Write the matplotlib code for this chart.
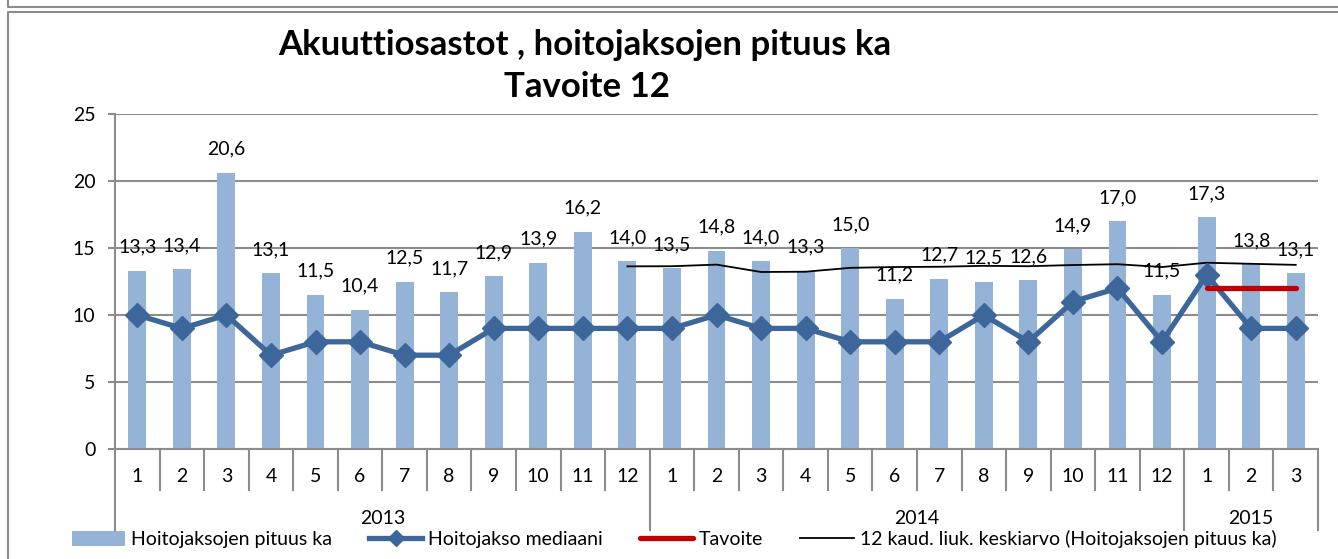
import matplotlib
matplotlib.use("Agg")
import matplotlib.pyplot as plt
from matplotlib.lines import Line2D
from matplotlib.patches import Patch
import matplotlib.transforms as mtransforms

plt.rcParams['font.family'] = ['Lato', 'DejaVu Sans']

months = [1, 2, 3, 4, 5, 6, 7, 8, 9, 10, 11, 12,
          1, 2, 3, 4, 5, 6, 7, 8, 9, 10, 11, 12,
          1, 2, 3]
years = ["2013", "2014", "2015"]
year_counts = [12, 12, 3]
pituus_ka = [13.3, 13.4, 20.6, 13.1, 11.5, 10.4, 12.5, 11.7, 12.9, 13.9, 16.2, 14.0,
             13.5, 14.8, 14.0, 13.3, 15.0, 11.2, 12.7, 12.5, 12.6, 14.9, 17.0, 11.5,
             17.3, 13.8, 13.1]
mediaani = [10, 9, 10, 7, 8, 8, 7, 7, 9, 9, 9, 9,
            9, 10, 9, 9, 8, 8, 8, 10, 8, 11, 12, 8,
            13, 9, 9]
# 12-period moving average (starts at 12/2013)
liuk_start = 11
liuk_ka = [13.63, 13.64, 13.76, 13.21, 13.23, 13.52, 13.58, 13.60, 13.67, 13.64,
           13.73, 13.79, 13.58, 13.90, 13.82, 13.74]
tavoite_start = 24
tavoite = [12, 12, 12]

BAR = '#95B3D7'
MED = '#3D679A'
RED = '#C00000'
GRID = '#8C8C8C'
FS = 14

W, H = 1338, 559
fig = plt.figure(figsize=(W / 100, H / 100), dpi=100)
ax = fig.add_axes([115 / W, 1 - 449 / H, (1318 - 115) / W, (449 - 114) / H])

x = list(range(len(pituus_ka)))
ax.bar(x, pituus_ka, width=0.4, color=BAR, zorder=2)
ax.plot(x, mediaani, color=MED, lw=3.8, marker='D', markersize=12, zorder=4,
        solid_joinstyle='miter')
ax.plot(range(liuk_start, liuk_start + len(liuk_ka)), liuk_ka, color='black', lw=1.3, zorder=3)
ax.plot(range(tavoite_start, tavoite_start + len(tavoite)), tavoite, color=RED, lw=3.8,
        solid_capstyle='round', zorder=5)

for xi, v in zip(x, pituus_ka):
    ax.annotate(f"{v:.1f}".replace('.', ','), (xi, v), xytext=(0, 17),
                textcoords='offset points', ha='center', va='center', fontsize=FS, zorder=6)

ax.set_xlim(-0.5, len(x) - 0.5)
ax.set_ylim(0, 25)
ax.set_yticks([0, 5, 10, 15, 20, 25])
ax.yaxis.grid(True, color=GRID, lw=1.5, zorder=0)
ax.set_axisbelow(True)
for s in ['top', 'right']:
    ax.spines[s].set_visible(False)
for s in ['left', 'bottom']:
    ax.spines[s].set_color(GRID)
    ax.spines[s].set_linewidth(1.5)
ax.tick_params(axis='y', length=5, width=1.5, color=GRID, labelsize=FS, pad=9)
ax.set_xticks([])

trans = mtransforms.blended_transform_factory(ax.transData, ax.transAxes)
ax_h = (449 - 114)
month_bot = -(490 - 449) / ax_h
year_bot = -(530 - 449) / ax_h
month_y = -(476 - 449) / ax_h
year_y = -(518 - 449) / ax_h

for xi, m in zip(x, months):
    ax.text(xi, month_y, str(m), transform=trans, ha='center', va='center', fontsize=FS)

bounds = [0]
for c in year_counts:
    bounds.append(bounds[-1] + c)
for b in range(len(x) + 1):
    yb = year_bot if b in bounds else month_bot
    ax.plot([b - 0.5, b - 0.5], [0, yb], transform=trans, color=GRID, lw=1.5, clip_on=False)
for yr, b0, b1 in zip(years, bounds[:-1], bounds[1:]):
    ax.text((b0 + b1 - 1) / 2, year_y, yr, transform=trans, ha='center', va='center', fontsize=FS)

fig.text(585 / W, 1 - 45 / H, "Akuuttiosastot , hoitojaksojen pituus ka", ha='center', va='center',
         fontsize=25, fontweight='bold')
fig.text(587 / W, 1 - 87 / H, "Tavoite 12", ha='center', va='center',
         fontsize=25, fontweight='bold')

handles = [Patch(facecolor=BAR, edgecolor='none'),
           Line2D([], [], color=MED, lw=3.8, marker='D', markersize=8),
           Line2D([], [], color=RED, lw=3.8, solid_capstyle='round'),
           Line2D([], [], color='black', lw=1.3)]
labels = ["Hoitojaksojen pituus ka", "Hoitojakso mediaani", "Tavoite",
          "12 kaud. liuk. keskiarvo (Hoitojaksojen pituus ka)"]
fig.legend(handles, labels, loc='center', bbox_to_anchor=(674 / W, 1 - 539 / H), ncol=4,
           frameon=False, fontsize=FS, handlelength=2.75, handleheight=0.85,
           handletextpad=0.3, columnspacing=1.9, borderpad=0)

# frames
fig.add_artist(Line2D([8 / W, 8 / W, 1], [1, 1 - 7 / H, 1 - 7 / H], color=GRID, lw=1.5,
                      transform=fig.transFigure))
fig.add_artist(Line2D([1, 8 / W, 8 / W], [1 - 12 / H, 1 - 12 / H, 0], color=GRID, lw=1.5,
                      transform=fig.transFigure))

fig.savefig("out.png", dpi=100)
